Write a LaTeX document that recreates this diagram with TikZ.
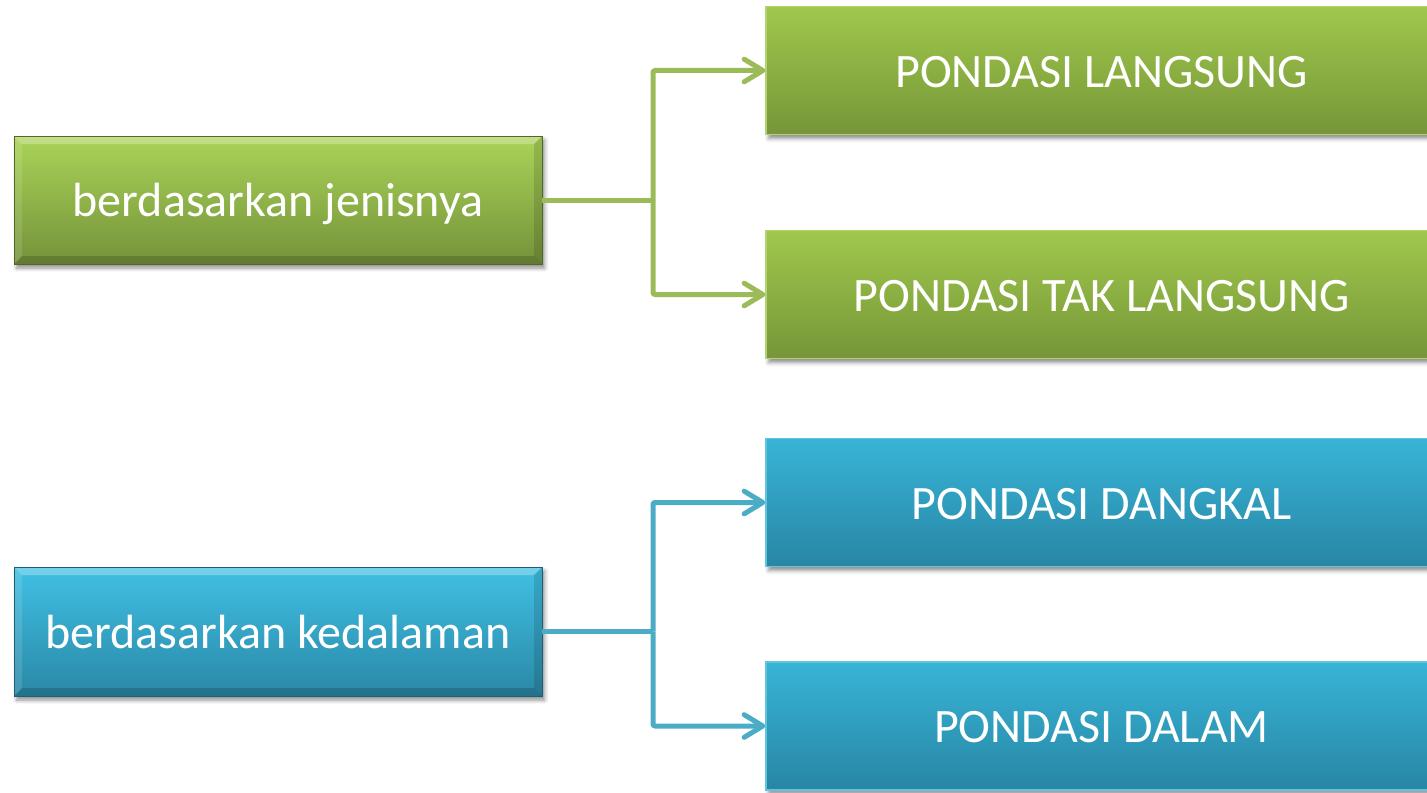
\documentclass[tikz,border=0pt]{standalone}
\usepackage{fontspec}
\setmainfont{Carlito}
\usetikzlibrary{arrows.meta,calc,shadows.blur}
\definecolor{glinec}{RGB}{155,187,89}
\definecolor{blinec}{RGB}{75,172,198}
\definecolor{gtop}{RGB}{160,200,76}
\definecolor{gbot}{RGB}{118,150,56}
\definecolor{btop}{RGB}{56,180,215}
\definecolor{bbot}{RGB}{40,134,164}
\definecolor{gtopL}{RGB}{170,212,88}
\definecolor{gbotL}{RGB}{116,146,58}
\definecolor{btopL}{RGB}{64,192,228}
\definecolor{bbotL}{RGB}{42,136,166}
\tikzset{
  boxbase/.style={rectangle, inner sep=0pt, text=white, font=\fontsize{36}{43}\selectfont,
    text height=25pt, text depth=0pt,
    blur shadow={shadow xshift=2pt, shadow yshift=-3pt, shadow blur radius=3pt, shadow opacity=45}},
  rgreen/.style={boxbase, minimum width=671*0.75pt, minimum height=128*0.75pt,
    top color=gtop, bottom color=gbot, draw=gtop!80!white, line width=1pt},
  rblue/.style={boxbase, minimum width=671*0.75pt, minimum height=128*0.75pt,
    top color=btop, bottom color=bbot, draw=btop!80!white, line width=1pt},
  bevel/.style={path picture={
     \fill[white,opacity=0.28] (path picture bounding box.north west) -- (path picture bounding box.north east)
        -- ($(path picture bounding box.north east)+(-8,8)$) -- ($(path picture bounding box.north west)+(8,8)$) -- cycle;
     \fill[black,opacity=0.16] (path picture bounding box.south west) -- (path picture bounding box.south east)
        -- ($(path picture bounding box.south east)+(-8,-8)$) -- ($(path picture bounding box.south west)+(8,-8)$) -- cycle;
     \fill[white,opacity=0.12] (path picture bounding box.north west) -- (path picture bounding box.south west)
        -- ($(path picture bounding box.south west)+(8,-8)$) -- ($(path picture bounding box.north west)+(8,8)$) -- cycle;
     \fill[black,opacity=0.12] (path picture bounding box.north east) -- (path picture bounding box.south east)
        -- ($(path picture bounding box.south east)+(-8,-8)$) -- ($(path picture bounding box.north east)+(-8,8)$) -- cycle;
  }},
  lgreen/.style={boxbase, bevel, minimum width=528*0.75pt, minimum height=128*0.75pt,
    top color=gtopL, bottom color=gbotL, draw=gbotL!70!black, line width=0.6pt},
  lblue/.style={boxbase, bevel, minimum width=528*0.75pt, minimum height=129*0.75pt,
    top color=btopL, bottom color=bbotL, draw=bbotL!70!black, line width=0.6pt},
  conn/.style={line width=3.75pt, line join=round, rounded corners=1.5pt},
  arr/.style={conn, -{Straight Barb[length=14pt, width=17pt, line cap=round, line join=round]}},
}
\begin{document}
\begin{tikzpicture}[x=0.75pt,y=-0.75pt]
\useasboundingbox (0,0) rectangle (1427,792);
% left boxes
\node[lgreen] (gL) at (278,200) {berdasarkan jenisnya};
\node[lblue] (bL) at (278,631.5) {berdasarkan kedalaman};
% right boxes (run past the right edge)
\node[rgreen] (g1) at (1101.5,70.5) {PONDASI LANGSUNG};
\node[rgreen] (g2) at (1101.5,294.5) {PONDASI TAK LANGSUNG};
\node[rblue] (b1) at (1101.5,502.5) {PONDASI DANGKAL};
\node[rblue] (b2) at (1101.5,726) {PONDASI DALAM};
% junctions
\coordinate (jg) at (653,200);
\coordinate (jb) at (653,631.5);
% connectors
\draw[conn, glinec] (gL.east) -- (jg);
\draw[arr, glinec] (jg) |- (g1.west);
\draw[arr, glinec] (jg) |- (g2.west);
\draw[conn, blinec] (bL.east) -- (jb);
\draw[arr, blinec] (jb) |- (b1.west);
\draw[arr, blinec] (jb) |- (b2.west);
\end{tikzpicture}
\end{document}
